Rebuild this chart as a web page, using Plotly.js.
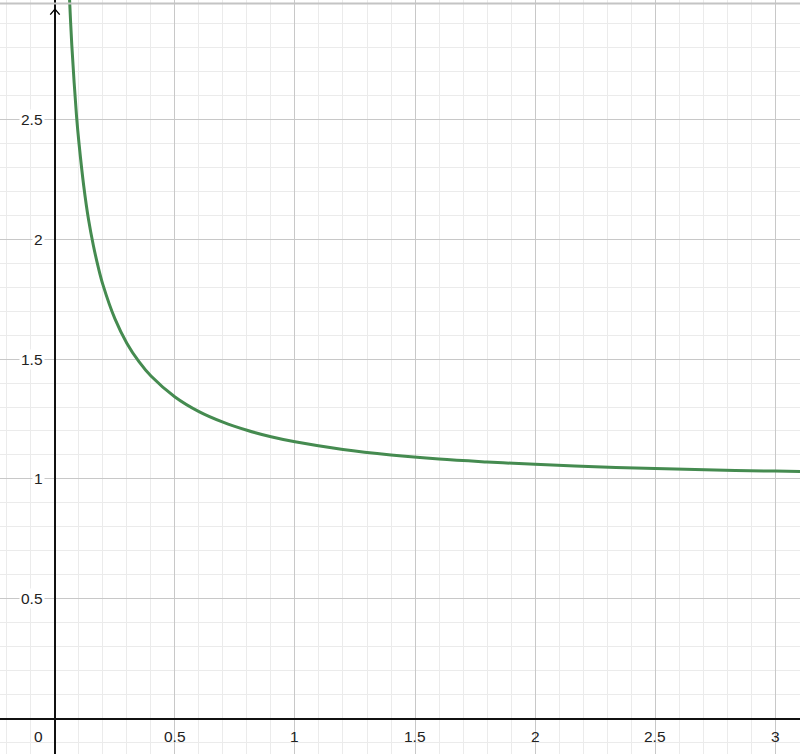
<!DOCTYPE html>
<html>
<head>
<meta charset="utf-8">
<script src="https://cdn.plot.ly/plotly-3.0.1.min.js"></script>
<style>html,body{margin:0;padding:0;background:#fff;}#chart{width:800px;height:754px;}</style>
</head>
<body>
<div id="chart"></div>
<script>
// Curve points
var curveX = [0.055, 0.06, 0.07, 0.08, 0.09, 0.1, 0.12, 0.14, 0.16, 0.18, 0.2, 0.25, 0.3, 0.35, 0.4, 0.5, 0.6, 0.7, 0.8, 0.9, 1.0, 1.2, 1.4, 1.6, 1.8, 2.0, 2.25, 2.5, 2.75, 3.0, 3.2];
var curveY = [3.14, 3.015, 2.81, 2.65, 2.51, 2.40, 2.22, 2.08, 1.973, 1.884, 1.809, 1.667, 1.565, 1.489, 1.429, 1.342, 1.281, 1.237, 1.203, 1.176, 1.155, 1.123, 1.100, 1.083, 1.071, 1.061, 1.051, 1.0435, 1.0376, 1.0328, 1.0296];

// Tick labels
var xTickVals = [0.5, 1, 1.5, 2, 2.5, 3];
var xTickText = ['0.5', '1', '1.5', '2', '2.5', '3'];
var yTickVals = [0.5, 1, 1.5, 2, 2.5];
var yTickText = ['0.5', '1', '1.5', '2', '2.5'];
var originLabel = '0';

var labelFont = {family: 'Arial, Liberation Sans, sans-serif', size: 15.5, color: '#222'};
var annotations = [];
xTickVals.forEach(function (v, i) {
  annotations.push({x: v, y: 0, xref: 'x', yref: 'y', text: xTickText[i], showarrow: false,
    yanchor: 'top', yshift: -7, font: labelFont});
});
yTickVals.forEach(function (v, i) {
  annotations.push({x: 0, y: v, xref: 'x', yref: 'y', text: yTickText[i], showarrow: false,
    xanchor: 'right', xshift: -10, bgcolor: '#fff', borderpad: 1, font: labelFont});
});
annotations.push({x: 0, y: 0, xref: 'x', yref: 'y', text: originLabel, showarrow: false,
  xanchor: 'right', yanchor: 'top', xshift: -10, yshift: -7, font: labelFont});
// arrow head (open chevron) on the y-axis
[-6, 6].forEach(function (dx) {
  annotations.push({x: 0, y: 2.958, xref: 'x', yref: 'y', ax: dx, ay: 7,
    text: '', showarrow: true, arrowhead: 0, arrowwidth: 1.4, arrowcolor: '#000', standoff: 0});
});

var trace = {x: curveX, y: curveY, type: 'scatter', mode: 'lines',
  line: {color: '#458b50', width: 3, shape: 'spline'}, hoverinfo: 'skip'};

var layout = {
  width: 800, height: 754,
  margin: {l: 0, r: 0, t: 0, b: 0},
  paper_bgcolor: '#fff', plot_bgcolor: '#fff',
  showlegend: false,
  xaxis: {range: [-0.229, 3.104], dtick: 0.5, tick0: 0, showticklabels: false, ticks: '',
    showgrid: true, gridcolor: '#c8c8c8', gridwidth: 1,
    minor: {dtick: 0.1, tick0: 0, showgrid: true, gridcolor: '#ebebeb', gridwidth: 1},
    zeroline: true, zerolinecolor: '#111', zerolinewidth: 1.6, showline: false, fixedrange: true},
  yaxis: {range: [-0.146, 2.996], dtick: 0.5, tick0: 0, showticklabels: false, ticks: '',
    showgrid: true, gridcolor: '#c8c8c8', gridwidth: 1,
    minor: {dtick: 0.1, tick0: 0, showgrid: true, gridcolor: '#ebebeb', gridwidth: 1},
    zeroline: true, zerolinecolor: '#111', zerolinewidth: 1.6, showline: false, fixedrange: true},
  annotations: annotations,
  shapes: [{type: 'line', xref: 'paper', yref: 'paper', x0: 0, x1: 1, y0: 0.9953, y1: 0.9953,
    line: {color: '#c4c4c4', width: 2}}]
};

Plotly.newPlot('chart', [trace], layout, {staticPlot: true, displayModeBar: false});
</script>
</body>
</html>
